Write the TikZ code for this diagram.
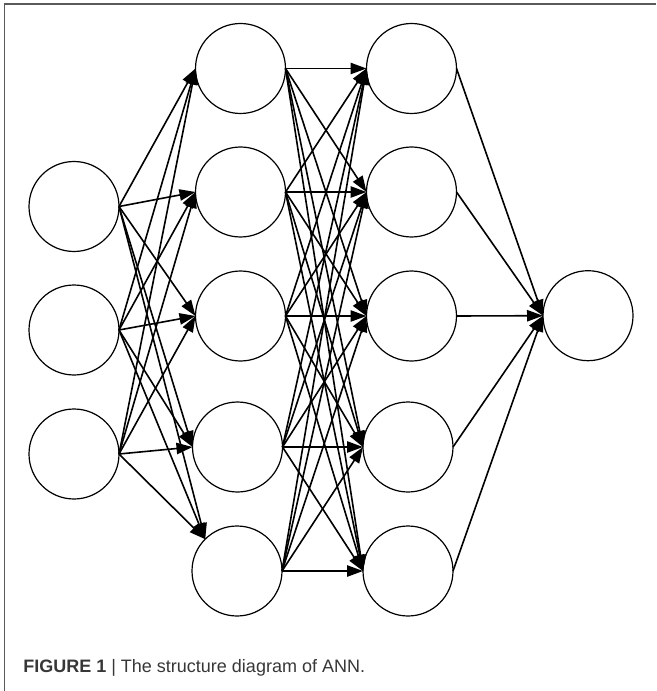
\documentclass[tikz,border=0pt]{standalone}
\usepackage{fontspec}
\setmainfont{Liberation Sans}
\usetikzlibrary{arrows.meta}
\definecolor{frame}{RGB}{90,90,90}
\definecolor{captxt}{RGB}{55,55,55}
\begin{document}
\begin{tikzpicture}[x=0.75pt,y=-0.75pt,
  neuron/.style={circle,draw=black,line width=0.9pt,minimum size=67.5pt,inner sep=0pt,outer sep=0pt},
  conn/.style={-{Triangle[length=12pt,width=8.5pt]},line width=1.2pt},
  framestyle/.style={draw=frame,line width=1pt}]
\useasboundingbox (0,0) rectangle (656,691);
% frame
\coordinate (fbl) at (4.7,691);
\coordinate (ftl) at (4.7,4);
\coordinate (ftr) at (656,4);
\draw[framestyle] (fbl) -- (ftl) -- (ftr);
% input layer
\node[neuron] (i1) at (74,206.5) {};
\node[neuron] (i2) at (74,330) {};
\node[neuron] (i3) at (74,454) {};
% hidden layer 1
\node[neuron] (a1) at (240.5,68.5) {};
\node[neuron] (a2) at (240.5,192) {};
\node[neuron] (a3) at (240.5,316) {};
\node[neuron] (a4) at (237.5,447) {};
\node[neuron] (a5) at (237,571) {};
% hidden layer 2
\node[neuron] (b1) at (411.5,68.5) {};
\node[neuron] (b2) at (411.5,192) {};
\node[neuron] (b3) at (411.5,316) {};
\node[neuron] (b4) at (408,447) {};
\node[neuron] (b5) at (408,571) {};
% output
\node[neuron] (o) at (588,315.7) {};
% input -> hidden 1
\foreach \i in {1,2,3}{
  \foreach \j in {1,2,3,4}{
    \draw[conn] (i\i.east) -- (a\j.west);
  }
  \draw[conn] (i\i.east) -- (a5.north west);
}
% hidden 1 -> hidden 2
\foreach \i in {1,...,5}{
  \foreach \j in {1,...,5}{
    \draw[conn] (a\i.east) -- (b\j.west);
  }
}
% hidden 2 -> output
\foreach \i in {1,...,5}{
  \draw[conn] (b\i.east) -- (o.west);
}
% caption
\node[anchor=base west,inner sep=0pt,text=captxt,font=\fontsize{13.5}{16}\selectfont] (cap) at (23,672.3)
  {\textbf{FIGURE 1} | The structure diagram of ANN.};
\end{tikzpicture}
\end{document}
